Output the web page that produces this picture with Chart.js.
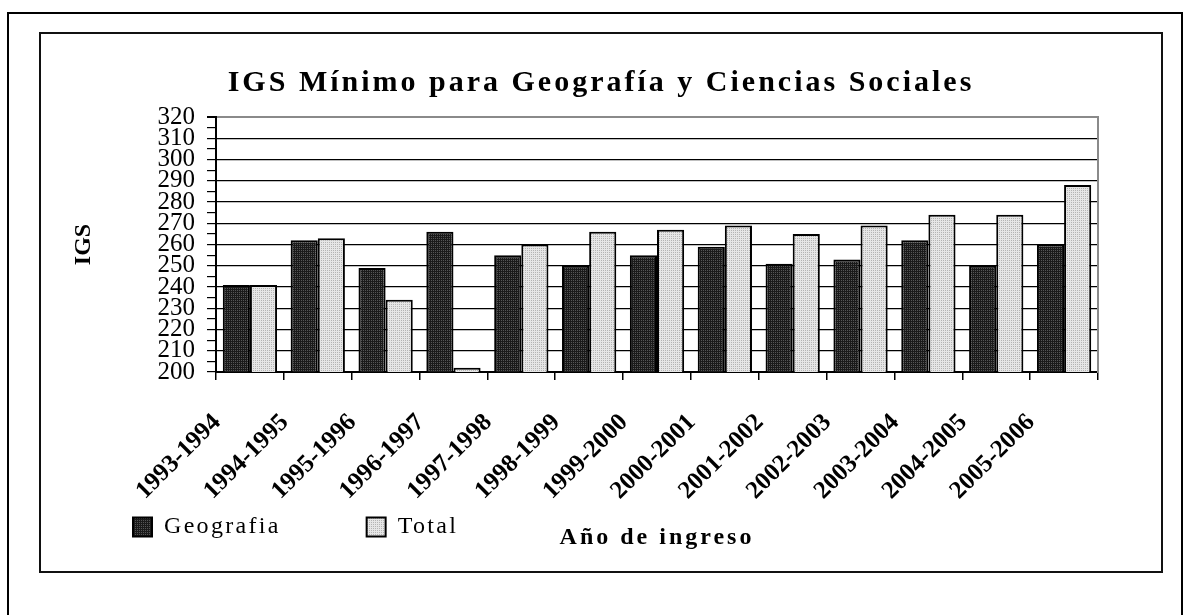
<!DOCTYPE html>
<html>
<head>
<meta charset="utf-8">
<script src="https://cdn.jsdelivr.net/npm/chart.js@4.4.1/dist/chart.umd.min.js"></script>
<style>
    html, body { margin: 0; padding: 0; background: #fff; }
    body { width: 1184px; height: 615px; overflow: hidden; position: relative; }
    .marco { position: absolute; left: 7px; top: 12px; width: 1172px; height: 700px; border: 2px solid #000; }
    .caja { position: absolute; left: 39px; top: 32px; width: 1120px; height: 537px; border: 2px solid #111; }
    .caja canvas { display: block; }
</style>
</head>
<body>
<div class="marco"></div>
<div class="caja"><canvas id="grafico" width="1120" height="537"></canvas></div>
<script>
var anios = ['1993-1994', '1994-1995', '1995-1996', '1996-1997', '1997-1998', '1998-1999', '1999-2000',
    '2000-2001', '2001-2002', '2002-2003', '2003-2004', '2004-2005', '2005-2006'];
var geografia = [241, 262, 249, 266, 255, 250, 255, 259, 251, 253, 262, 250, 260];
var total = [241, 263, 234, 202, 260, 266, 267, 269, 265, 269, 274, 274, 288];
var ticksY = [200, 210, 220, 230, 240, 250, 260, 270, 280, 290, 300, 310, 320];

var serif = "'Liberation Serif', 'Times New Roman', serif";

function trama(fondo, punto) {
    var c = document.createElement('canvas');
    c.width = 2; c.height = 2;
    var g = c.getContext('2d');
    g.fillStyle = fondo; g.fillRect(0, 0, 2, 2);
    g.fillStyle = punto; g.fillRect(0, 0, 1, 1);
    return document.getElementById('grafico').getContext('2d').createPattern(c, 'repeat');
}

// letter spacing only for title, legend and x title
function envolver(obj, metodo, sp) {
    if (!obj || obj['_esp_' + metodo]) return;
    var orig = obj[metodo];
    obj[metodo] = function () {
        var ctx = this.ctx;
        ctx.save();
        ctx.letterSpacing = sp;
        orig.apply(this, arguments);
        ctx.restore();
    };
    obj['_esp_' + metodo] = true;
}

var espaciado = {
    id: 'espaciado',
    beforeDraw: function (chart) {
        envolver(chart.titleBlock, 'draw', '3px');
        envolver(chart.legend, 'draw', '2.3px');
        envolver(chart.scales.x, 'drawTitle', '3px');
        // the x labels hang below the (short) scale box, so no clipping
        var x = chart.scales.x;
        if (x && !x._sinClip) {
            x._computeLabelArea = function () { return undefined; };
            x._sinClip = true;
        }
    }
};

var oscuro = trama('#1a1a1a', '#555555');
var claro = trama('#e6e6e6', '#b4b4b4');

new Chart(document.getElementById('grafico'), {
    type: 'bar',
    data: {
        labels: anios,
        datasets: [
            { label: 'Geografia', data: geografia, backgroundColor: oscuro, borderColor: '#000', borderWidth: 2,
              categoryPercentage: 0.8, barPercentage: 1.0 },
            { label: 'Total', data: total, backgroundColor: claro, borderColor: '#000', borderWidth: 2,
              categoryPercentage: 0.8, barPercentage: 1.0 }
        ]
    },
    plugins: [espaciado],
    options: {
        responsive: false,
        animation: false,
        events: [],
        layout: { padding: { left: 6, right: 6, top: 0, bottom: 22 } },
        plugins: {
            tooltip: { enabled: false },
            title: {
                display: true,
                text: 'IGS Mínimo para Geografía y Ciencias Sociales',
                color: '#000',
                font: { family: serif, size: 30, weight: 'bold' },
                padding: { top: 31, bottom: 16 }
            },
            legend: {
                position: 'bottom',
                align: 'start',
                labels: {
                    color: '#000',
                    font: { family: serif, size: 24 },
                    boxWidth: 19, boxHeight: 19,
                    padding: 86
                }
            }
        },
        scales: {
            x: {
                grid: { display: true, drawOnChartArea: false, drawTicks: true, tickLength: 8, color: '#000', lineWidth: 1.5 },
                border: { color: '#000', width: 2 },
                ticks: {
                    color: '#000',
                    font: { family: serif, size: 25, weight: 'bold' },
                    minRotation: 45, maxRotation: 45,
                    autoSkip: false,
                    labelOffset: -33,
                    padding: 28
                },
                title: {
                    display: true,
                    text: 'Año de ingreso',
                    color: '#000',
                    font: { family: serif, size: 24, weight: 'bold' },
                    padding: { top: 0, bottom: -123 }
                },
                afterFit: function (s) { s.height = 57; }
            },
            y: {
                min: 200, max: 320,
                afterBuildTicks: function (s) {
                    var t = [];
                    ticksY.forEach(function (v, i) {
                        t.push({ value: v });
                        if (i < ticksY.length - 1) t.push({ value: v + 5 });
                    });
                    s.ticks = t;
                },
                grid: {
                    color: function (c) {
                        var v = c.tick ? c.tick.value : 0;
                        if (v === 320) return '#8a8a8a';
                        return ticksY.indexOf(v) >= 0 ? '#000' : 'rgba(0,0,0,0)';
                    },
                    lineWidth: function (c) { return c.tick && c.tick.value === 320 ? 2 : 1.2; },
                    tickColor: '#000',
                    tickLength: 9
                },
                border: { color: '#000', width: 2 },
                ticks: {
                    color: '#000',
                    autoSkip: false,
                    font: { family: serif, size: 25, lineHeight: 1 },
                    padding: 12,
                    callback: function (v) { return ticksY.indexOf(v) >= 0 ? String(v) : ''; }
                },
                title: {
                    display: true,
                    text: 'IGS',
                    color: '#000',
                    font: { family: serif, size: 24, weight: 'bold' },
                    padding: { top: 22, bottom: 0 }
                },
                afterFit: function (s) { s.width = 169; }
            },
            yR: {
                position: 'right',
                min: 200, max: 320,
                grid: { display: false },
                ticks: { display: false },
                border: { color: '#8a8a8a', width: 2 },
                afterFit: function (s) { s.width = 57; }
            }
        }
    }
});
</script>
</body>
</html>
